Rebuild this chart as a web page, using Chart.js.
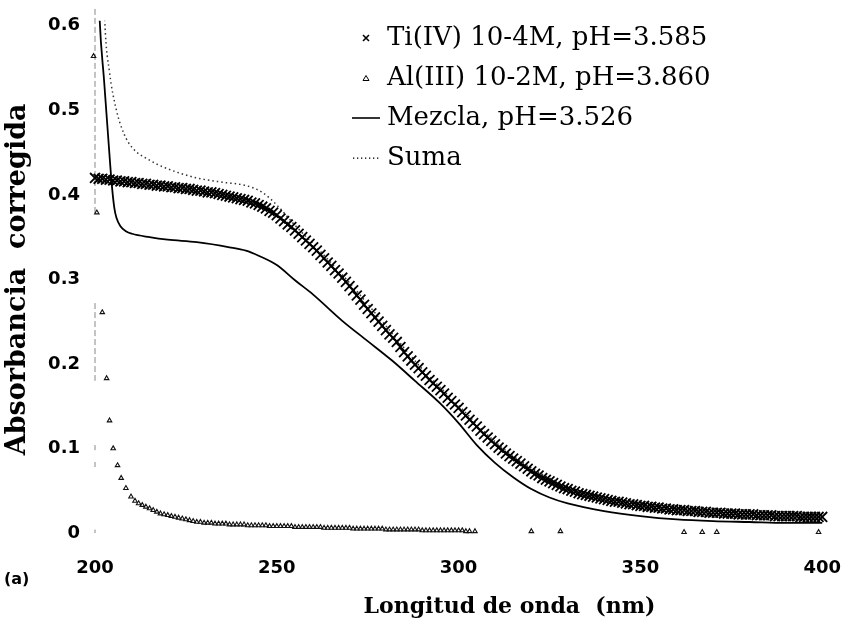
<!DOCTYPE html>
<html>
<head>
<meta charset="utf-8">
<script src="https://cdn.jsdelivr.net/npm/chart.js@4.4.1/dist/chart.umd.min.js"></script>
<style>
  html, body { margin: 0; padding: 0; background: #fff; }
  #wrap { width: 866px; height: 627px; }
</style>
</head>
<body>
<div id="wrap"><canvas id="absChart" width="866" height="627"></canvas></div>
<script>
// --- DATA ---
const xTickValues = [200, 250, 300, 350, 400];
const yTickValues = [0, 0.1, 0.2, 0.3, 0.4, 0.5, 0.6];

// Ti(IV) 10-4M : one value per nm, 200 .. 400
const tiStart = 200;
const tiValues = [
  0.420, 0.419, 0.419, 0.418, 0.418, 0.417, 0.417, 0.416, 0.416, 0.415,
  0.415, 0.414, 0.414, 0.413, 0.413, 0.412, 0.412, 0.411, 0.411, 0.410,
  0.410, 0.409, 0.409, 0.408, 0.408, 0.407, 0.407, 0.406, 0.405, 0.405,
  0.404, 0.403, 0.403, 0.402, 0.401, 0.400, 0.399, 0.398, 0.397, 0.396,
  0.395, 0.394, 0.393, 0.391, 0.390, 0.388, 0.386, 0.384, 0.381, 0.379,
  0.376, 0.372, 0.369, 0.365, 0.362, 0.358, 0.354, 0.350, 0.346, 0.342,
  0.338, 0.334, 0.329, 0.325, 0.320, 0.316, 0.311, 0.307, 0.302, 0.297,
  0.292, 0.287, 0.281, 0.276, 0.270, 0.265, 0.260, 0.255, 0.250, 0.245,
  0.240, 0.235, 0.231, 0.226, 0.220, 0.214, 0.209, 0.204, 0.199, 0.195,
  0.190, 0.186, 0.181, 0.177, 0.173, 0.169, 0.165, 0.160, 0.156, 0.152,
  0.148, 0.143, 0.139, 0.134, 0.130, 0.126, 0.121, 0.117, 0.113, 0.109,
  0.105, 0.101, 0.098, 0.094, 0.091, 0.088, 0.085, 0.082, 0.079, 0.076,
  0.073, 0.070, 0.068, 0.065, 0.063, 0.061, 0.059, 0.057, 0.055, 0.053,
  0.052, 0.050, 0.049, 0.047, 0.046, 0.045, 0.044, 0.043, 0.042, 0.041,
  0.040, 0.039, 0.038, 0.037, 0.037, 0.036, 0.035, 0.034, 0.034, 0.033,
  0.032, 0.032, 0.031, 0.031, 0.030, 0.030, 0.029, 0.029, 0.028, 0.028,
  0.027, 0.027, 0.027, 0.026, 0.026, 0.026, 0.025, 0.025, 0.025, 0.024,
  0.024, 0.024, 0.024, 0.023, 0.023, 0.023, 0.023, 0.022, 0.022, 0.022,
  0.022, 0.022, 0.021, 0.021, 0.021, 0.021, 0.021, 0.020, 0.020, 0.020,
  0.020, 0.020, 0.020, 0.020, 0.019, 0.019, 0.019, 0.019, 0.019, 0.019,
  0.019
];

// Al(III) 10-2M : steep start, dense tail every nm from 211 to 303, a few stray points
const alHeadX = [199.6, 200.5, 202.0, 203.2, 204.0, 205.0, 206.2, 207.2, 208.5, 209.9];
const alHeadY = [0.564, 0.379, 0.261, 0.183, 0.133, 0.100, 0.080, 0.065, 0.053, 0.043];
const alTrailStart = 211;
const alTrailValues = [
  0.038, 0.035, 0.033, 0.031, 0.029, 0.027, 0.025, 0.023, 0.022, 0.021,
  0.020, 0.019, 0.018, 0.017, 0.016, 0.015, 0.014, 0.013, 0.013, 0.012,
  0.012, 0.012, 0.011, 0.011, 0.011, 0.011, 0.010, 0.010, 0.010, 0.010,
  0.010, 0.009, 0.009, 0.009, 0.009, 0.009, 0.009, 0.008, 0.008, 0.008,
  0.008, 0.008, 0.008, 0.008, 0.007, 0.007, 0.007, 0.007, 0.007, 0.007,
  0.007, 0.007, 0.006, 0.006, 0.006, 0.006, 0.006, 0.006, 0.006, 0.006,
  0.005, 0.005, 0.005, 0.005, 0.005, 0.005, 0.005, 0.005, 0.005, 0.004,
  0.004, 0.004, 0.004, 0.004, 0.004, 0.004, 0.004, 0.004, 0.004, 0.003,
  0.003, 0.003, 0.003, 0.003, 0.003, 0.003, 0.003, 0.003, 0.003, 0.003,
  0.003, 0.002, 0.002
];
const alTailX = [304.5, 320, 328, 362, 367, 371, 399];
const alTailY = [0.002, 0.002, 0.002, 0.001, 0.001, 0.001, 0.001];
// faint vertical trace of the Al(III) run at the left edge (null = gap)
const alBarX = 200;
const alBarY = [0.62, 0.378, null, 0.272, 0.18, null, 0.104, 0.098, null, 0.084, 0.078, null, 0.004, 0];

// Mezcla, pH=3.526
const mezclaX = [200.9, 201.3, 202.5, 203.6, 204.6, 205.3, 205.9, 207, 208.5, 210.2, 215, 220, 228, 237, 241.5, 245, 250, 255, 260, 268, 275, 281.7, 288, 295, 300, 305, 310, 315, 320, 325, 330, 340, 350, 360, 370, 380, 390, 400];
const mezclaY = [0.66, 0.606, 0.535, 0.47, 0.413, 0.385, 0.373, 0.363, 0.357, 0.354, 0.350, 0.347, 0.344, 0.338, 0.334, 0.328, 0.317, 0.299, 0.282, 0.251, 0.227, 0.204, 0.180, 0.153, 0.130, 0.104, 0.083, 0.066, 0.052, 0.042, 0.035, 0.026, 0.020, 0.016, 0.014, 0.013, 0.012, 0.012];

// Suma
const sumaX = [202.4, 202.7, 204, 205.9, 208, 210.2, 215, 219.3, 228, 235, 241.5, 246, 250, 255, 260, 270, 280, 290, 300, 310, 320, 330, 340, 350, 360, 370, 380, 390, 400];
const sumaY = [0.65, 0.605, 0.545, 0.5, 0.472, 0.456, 0.441, 0.432, 0.42, 0.415, 0.411, 0.403, 0.388, 0.364, 0.342, 0.296, 0.245, 0.194, 0.151, 0.108, 0.077, 0.055, 0.042, 0.034, 0.029, 0.026, 0.024, 0.022, 0.021];

// --- helpers ---
const pairs = (xs, ys) => xs.map((x, i) => ({ x: x, y: ys[i] }));
const stepped = (start, vals) => vals.map((v, i) => ({ x: start + i, y: v }));

const tiPoints = stepped(tiStart, tiValues);
const alPoints = pairs(alHeadX, alHeadY).concat(stepped(alTrailStart, alTrailValues), pairs(alTailX, alTailY));
const alBarPoints = alBarY.map(v => ({ x: alBarX, y: v }));

// small legend symbols (the library draws canvases as point styles)
function mark(w, h, paint) {
  const c = document.createElement('canvas');
  c.width = w; c.height = h;
  const g = c.getContext('2d');
  g.strokeStyle = '#000';
  g.fillStyle = '#000';
  paint(g);
  return c;
}
const legendMarks = [
  mark(10, 10, g => { g.lineWidth = 1.6; g.beginPath(); g.moveTo(2, 2); g.lineTo(8, 8); g.moveTo(8, 2); g.lineTo(2, 8); g.stroke(); }),
  mark(8, 8, g => { g.lineWidth = 1; g.beginPath(); g.moveTo(4, 1.5); g.lineTo(7, 6.5); g.lineTo(1, 6.5); g.closePath(); g.stroke(); }),
  mark(28, 4, g => { g.lineWidth = 1.6; g.beginPath(); g.moveTo(0, 2); g.lineTo(28, 2); g.stroke(); }),
  mark(28, 4, g => { for (let i = 1; i < 28; i += 4) g.fillRect(i, 1.5, 1.3, 1.3); })
];

const tickFont = { family: 'DejaVu Sans', weight: 'bold', size: 18 };

// x-axis title sits a little right of centre, plus the panel tag "(a)"
const extraText = {
  id: 'extraText',
  afterDraw(chart) {
    const { ctx, chartArea } = chart;
    ctx.save();
    ctx.fillStyle = '#000';
    ctx.textBaseline = 'middle';
    ctx.font = 'bold 22px "DejaVu Serif"';
    ctx.textAlign = 'center';
    ctx.fillText('Longitud de onda  (nm)', chartArea.left + (chartArea.right - chartArea.left) * 0.57, 607);
    ctx.font = 'bold 16px "DejaVu Sans"';
    ctx.textAlign = 'left';
    ctx.fillText('(a)', 4, 580);
    ctx.restore();
  }
};

// move the legend column into the upper right of the plot
const legendSpot = {
  id: 'legendSpot',
  afterLayout(chart) {
    chart.legend.left = 344;
    chart.legend.top = 11;
  }
};

new Chart(document.getElementById('absChart'), {
  type: 'scatter',
  data: {
    datasets: [
      {
        label: 'Ti(IV) 10-4M, pH=3.585',
        data: tiPoints,
        pointStyle: 'crossRot',
        pointRadius: 7,
        pointBorderWidth: 1.8,
        borderColor: '#000',
        backgroundColor: '#000',
        showLine: false,
        clip: 8,
        order: 1
      },
      {
        label: 'Al(III) 10-2M, pH=3.860',
        data: alPoints,
        pointStyle: 'triangle',
        pointRadius: 2.6,
        pointBorderWidth: 1.1,
        borderColor: '#111',
        backgroundColor: 'rgba(255,255,255,0)',
        showLine: false,
        clip: 8,
        order: 2
      },
      {
        label: 'Mezcla, pH=3.526',
        data: pairs(mezclaX, mezclaY),
        pointRadius: 0,
        borderColor: '#000',
        borderWidth: 1.8,
        showLine: true,
        cubicInterpolationMode: 'monotone',
        clip: { left: 6, top: 5, right: 6, bottom: 6 },
        order: 2
      },
      {
        label: 'Suma',
        data: pairs(sumaX, sumaY),
        pointRadius: 0,
        borderColor: '#333',
        borderWidth: 1.5,
        borderDash: [1.5, 3],
        showLine: true,
        cubicInterpolationMode: 'monotone',
        clip: { left: 6, top: 5, right: 6, bottom: 6 },
        order: 3
      },
      {
        label: 'trace',
        data: alBarPoints,
        pointRadius: 0,
        borderColor: '#888',
        borderWidth: 1,
        borderDash: [6, 3],
        showLine: true,
        spanGaps: false,
        clip: false,
        order: 4
      }
    ]
  },
  options: {
    responsive: false,
    animation: false,
    layout: { padding: { top: 25, right: 24, left: 0, bottom: 0 } },
    plugins: {
      legend: {
        position: 'chartArea',
        align: 'start',
        labels: {
          usePointStyle: true,
          pointStyleWidth: 16,
          boxHeight: 8,
          padding: 14,
          color: '#000',
          font: { family: 'DejaVu Serif', size: 26 },
          filter: item => item.text !== 'trace',
          generateLabels: chart => Chart.defaults.plugins.legend.labels.generateLabels(chart)
            .map(item => Object.assign(item, { pointStyle: legendMarks[item.datasetIndex] || item.pointStyle }))
        }
      },
      tooltip: { enabled: false }
    },
    scales: {
      x: {
        type: 'linear',
        min: 200,
        max: 400,
        afterBuildTicks: s => { s.ticks = xTickValues.map(v => ({ value: v })); },
        afterFit: s => { s.height = 94; },
        grid: { display: false, drawTicks: false },
        border: { display: false },
        ticks: { color: '#000', font: tickFont, padding: 25, maxRotation: 0 }
      },
      y: {
        min: 0,
        max: 0.6,
        afterBuildTicks: s => { s.ticks = yTickValues.map(v => ({ value: v })); },
        afterFit: s => { s.width = 95; },
        grid: { display: false, drawTicks: false },
        border: { display: false },
        ticks: { color: '#000', font: { family: 'DejaVu Sans', weight: 'bold', size: 18 }, padding: 15 },
        title: {
          display: true,
          text: 'Absorbancia  corregida',
          color: '#000',
          font: { family: 'DejaVu Serif', weight: 'bold', size: 27 },
          padding: { top: 2, bottom: 0 }
        }
      }
    }
  },
  plugins: [legendSpot, extraText]
});
</script>
</body>
</html>
